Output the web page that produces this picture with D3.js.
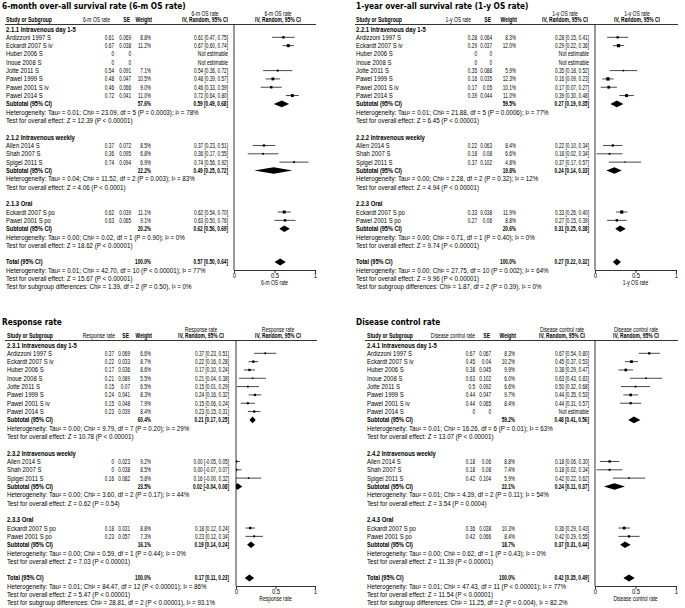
<!DOCTYPE html>
<html>
<head>
<meta charset="utf-8">
<script src="https://cdn.jsdelivr.net/npm/d3@7"></script>
<style>
  body { margin: 0; background: #fff; }
</style>
</head>
<body>
<script>
// ---- data ----
const titles = [
  "6-month over-all survival rate (6-m OS rate)",
  "1-year over-all survival rate (1-y OS rate)",
  "Response rate",
  "Disease control rate"
];
const measures = ["6-m OS rate", "1-y OS rate", "Response rate", "Disease control rate"];
const sectionPrefixes = ["2.1", "2.2", "2.3", "2.4"];
const groupLabels = ["Intravenous day 1-5", "Intravenous weekly", "Oral"];
const studyNames = [
  ["Ardizzoni 1997 S", "Eckardt 2007 S iv", "Huber 2006 S", "Inoue 2008 S", "Jotte 2011 S", "Pawel 1999 S", "Pawel 2001 S iv", "Pawel 2014 S"],
  ["Allen 2014 S", "Shah 2007 S", "Spigel 2011 S"],
  ["Eckardt 2007 S po", "Pawel 2001 S po"]
];

// study rows: [estimate, SE, weight %, lower, upper]  (weight null = not estimable)
const os6Studies = [
  [0.61, 0.069, 8.8, 0.47, 0.75], [0.67, 0.038, 11.2, 0.60, 0.74], [0, 0, null], [0, 0, null],
  [0.54, 0.091, 7.1, 0.36, 0.72], [0.48, 0.047, 10.5, 0.39, 0.57], [0.46, 0.066, 9.0, 0.33, 0.59], [0.72, 0.041, 11.0, 0.64, 0.80],
  [0.37, 0.072, 8.5, 0.23, 0.51], [0.36, 0.095, 6.8, 0.17, 0.55], [0.74, 0.094, 6.9, 0.56, 0.92],
  [0.62, 0.039, 11.1, 0.54, 0.70], [0.63, 0.065, 9.1, 0.50, 0.76]
];
// subtotal / total: [weight %, estimate, lower, upper]
const os6Subtotals = [[57.6, 0.59, 0.49, 0.68], [22.2, 0.49, 0.25, 0.72], [20.2, 0.62, 0.56, 0.69]];
const os6Total = [100.0, 0.57, 0.50, 0.64];
const os6Heterogeneity = [
  "Tau² = 0.01; Chi² = 23.09, df = 5 (P = 0.0003); I² = 78%",
  "Tau² = 0.04; Chi² = 11.52, df = 2 (P = 0.003); I² = 83%",
  "Tau² = 0.00; Chi² = 0.02, df = 1 (P = 0.90); I² = 0%",
  "Tau² = 0.01; Chi² = 42.70, df = 10 (P < 0.00001); I² = 77%"
];
const os6Effect = ["Z = 12.39 (P < 0.00001)", "Z = 4.06 (P < 0.0001)", "Z = 18.62 (P < 0.00001)", "Z = 15.67 (P < 0.00001)"];
const os6SubgroupDiff = "Chi² = 1.39, df = 2 (P = 0.50), I² = 0%";

const os1Studies = [
  [0.28, 0.064, 8.3, 0.15, 0.41], [0.29, 0.037, 12.0, 0.22, 0.36], [0, 0, null], [0, 0, null],
  [0.35, 0.088, 5.9, 0.18, 0.52], [0.16, 0.035, 12.3, 0.09, 0.23], [0.17, 0.05, 10.1, 0.07, 0.27], [0.39, 0.044, 11.0, 0.30, 0.48],
  [0.22, 0.063, 8.4, 0.10, 0.34], [0.18, 0.08, 6.6, 0.02, 0.34], [0.37, 0.102, 4.8, 0.17, 0.57],
  [0.33, 0.038, 11.9, 0.26, 0.40], [0.27, 0.06, 8.8, 0.15, 0.39]
];
const os1Subtotals = [[59.5, 0.27, 0.19, 0.35], [19.8, 0.24, 0.14, 0.33], [20.6, 0.31, 0.25, 0.38]];
const os1Total = [100.0, 0.27, 0.22, 0.32];
const os1Heterogeneity = [
  "Tau² = 0.01; Chi² = 21.88, df = 5 (P = 0.0006); I² = 77%",
  "Tau² = 0.00; Chi² = 2.28, df = 2 (P = 0.32); I² = 12%",
  "Tau² = 0.00; Chi² = 0.71, df = 1 (P = 0.40); I² = 0%",
  "Tau² = 0.00; Chi² = 27.75, df = 10 (P = 0.002); I² = 64%"
];
const os1Effect = ["Z = 6.45 (P < 0.00001)", "Z = 4.94 (P < 0.00001)", "Z = 9.74 (P < 0.00001)", "Z = 9.96 (P < 0.00001)"];
const os1SubgroupDiff = "Chi² = 1.87, df = 2 (P = 0.39), I² = 0%";

const rrStudies = [
  [0.37, 0.069, 6.6, 0.23, 0.51], [0.22, 0.033, 8.7, 0.16, 0.28], [0.17, 0.036, 8.6, 0.10, 0.24], [0.21, 0.089, 5.5, 0.04, 0.38],
  [0.15, 0.07, 6.5, 0.01, 0.29], [0.24, 0.041, 8.3, 0.16, 0.32], [0.15, 0.048, 7.9, 0.06, 0.24], [0.23, 0.039, 8.4, 0.15, 0.31],
  [0, 0.023, 9.2, -0.05, 0.05], [0, 0.038, 8.5, -0.07, 0.07], [0.16, 0.082, 5.8, -0, 0.32],
  [0.18, 0.031, 8.8, 0.12, 0.24], [0.23, 0.057, 7.3, 0.12, 0.34]
];
const rrSubtotals = [[60.4, 0.21, 0.17, 0.25], [23.5, 0.02, -0.04, 0.08], [16.1, 0.19, 0.14, 0.24]];
const rrTotal = [100.0, 0.17, 0.11, 0.23];
const rrHeterogeneity = [
  "Tau² = 0.00; Chi² = 9.79, df = 7 (P = 0.20); I² = 29%",
  "Tau² = 0.00; Chi² = 3.60, df = 2 (P = 0.17); I² = 44%",
  "Tau² = 0.00; Chi² = 0.59, df = 1 (P = 0.44); I² = 0%",
  "Tau² = 0.01; Chi² = 84.47, df = 12 (P < 0.00001); I² = 86%"
];
const rrEffect = ["Z = 10.78 (P < 0.00001)", "Z = 0.62 (P = 0.54)", "Z = 7.03 (P < 0.00001)", "Z = 5.47 (P < 0.00001)"];
const rrSubgroupDiff = "Chi² = 28.81, df = 2 (P < 0.00001), I² = 93.1%";

const dcrStudies = [
  [0.67, 0.067, 8.3, 0.54, 0.80], [0.45, 0.04, 10.2, 0.37, 0.53], [0.38, 0.045, 9.9, 0.29, 0.47], [0.63, 0.102, 6.0, 0.43, 0.83],
  [0.5, 0.092, 6.6, 0.32, 0.68], [0.44, 0.047, 9.7, 0.35, 0.53], [0.44, 0.065, 8.4, 0.31, 0.57], [0, 0, null],
  [0.18, 0.06, 8.8, 0.06, 0.30], [0.18, 0.08, 7.4, 0.02, 0.34], [0.42, 0.104, 5.9, 0.22, 0.62],
  [0.36, 0.038, 10.3, 0.29, 0.43], [0.42, 0.066, 8.4, 0.29, 0.55]
];
const dcrSubtotals = [[59.2, 0.48, 0.41, 0.56], [22.1, 0.24, 0.11, 0.37], [18.7, 0.37, 0.31, 0.44]];
const dcrTotal = [100.0, 0.42, 0.35, 0.49];
const dcrHeterogeneity = [
  "Tau² = 0.01; Chi² = 16.26, df = 6 (P = 0.01); I² = 63%",
  "Tau² = 0.01; Chi² = 4.39, df = 2 (P = 0.11); I² = 54%",
  "Tau² = 0.00; Chi² = 0.62, df = 1 (P = 0.43); I² = 0%",
  "Tau² = 0.01; Chi² = 47.43, df = 11 (P < 0.00001); I² = 77%"
];
const dcrEffect = ["Z = 13.07 (P < 0.00001)", "Z = 3.54 (P = 0.0004)", "Z = 11.39 (P < 0.00001)", "Z = 11.54 (P < 0.00001)"];
const dcrSubgroupDiff = "Chi² = 11.25, df = 2 (P = 0.004), I² = 82.2%";

// ---- layout ----
const W = 685, H = 608;
const BODY = "'Liberation Sans', Arial, sans-serif";
const TITLE = "'DejaVu Sans', Verdana, sans-serif";
const ROW = 8.32;

const layouts = [
  { oy: 0, titleX: 2, nameX: 6, valHeadX: 110, valX: 114, seX: 131, wX: 151, ciX: 228, ciHeadX: 205, plotL: 234, plotR: 315, plotHeadX: 278, lineL: 5, lineR: 316 },
  { oy: 0, titleX: 356, nameX: 356, valHeadX: 471, valX: 477, seX: 492, wX: 516, ciX: 589, ciHeadX: 565, plotL: 595, plotR: 676, plotHeadX: 637, lineL: 355, lineR: 678 },
  { oy: 316, titleX: 2, nameX: 7, valHeadX: 115, valX: 114, seX: 130, wX: 151, ciX: 229, ciHeadX: 201, plotL: 236, plotR: 315, plotHeadX: 278, lineL: 5, lineR: 317 },
  { oy: 316, titleX: 356, nameX: 367, valHeadX: 475, valX: 475, seX: 491, wX: 515, ciX: 589, ciHeadX: 562, plotL: 595, plotR: 676, plotHeadX: 636, lineL: 365, lineR: 678 }
];

const panels = [
  { studies: os6Studies, subs: os6Subtotals, total: os6Total, het: os6Heterogeneity, eff: os6Effect, diff: os6SubgroupDiff },
  { studies: os1Studies, subs: os1Subtotals, total: os1Total, het: os1Heterogeneity, eff: os1Effect, diff: os1SubgroupDiff },
  { studies: rrStudies, subs: rrSubtotals, total: rrTotal, het: rrHeterogeneity, eff: rrEffect, diff: rrSubgroupDiff },
  { studies: dcrStudies, subs: dcrSubtotals, total: dcrTotal, het: dcrHeterogeneity, eff: dcrEffect, diff: dcrSubgroupDiff }
];

const svg = d3.select("body").append("svg").attr("width", W).attr("height", H);
svg.append("rect").attr("width", W).attr("height", H).attr("fill", "#fff");

// measure a string, then squeeze each text role to the widths seen in the source
function measure(s, font, size, bold) {
  const t = svg.append("text").attr("font-family", font).attr("font-size", size)
    .attr("font-weight", bold ? "bold" : "normal").text(s);
  const w = t.node().getComputedTextLength();
  t.remove();
  return w;
}
const SX = {
  title: 184 / measure(titles[0], TITLE, 9, true),
  name: 45 / measure("Ardizzoni 1997 S", BODY, 7, false),
  line: 200 / measure("Heterogeneity: " + os6Heterogeneity[3], BODY, 7, false),
  num: 34 / measure("0.61 [0.47, 0.75]", BODY, 7, false),
  head: 46 / measure("IV, Random, 95% CI", BODY, 7, true),
  study: 46 / measure("Study or Subgroup", BODY, 7, true),
  group: 70 / measure("2.1.1 Intravenous day 1-5", BODY, 7, true),
  sub: 46 / measure("Subtotal (95% CI)", BODY, 7, true)
};

function txt(g, x, y, s, o = {}) {
  return g.append("text")
    .attr("transform", `translate(${x},${y}) scale(${o.sx || SX.name},1)`)
    .attr("text-anchor", o.anchor || "start")
    .attr("font-family", o.font || BODY)
    .attr("font-size", o.size || 7)
    .attr("font-weight", o.bold ? "bold" : "normal")
    .attr("fill", "#000")
    .text(s);
}
const fmt2 = v => (v < 0 || Object.is(v, -0)) ? "-" + Math.abs(v).toFixed(2) : v.toFixed(2);
const ciText = (e, lo, hi) => `${fmt2(e)} [${fmt2(lo)}, ${fmt2(hi)}]`;

function drawPanel(k) {
  const p = panels[k], L = layouts[k], top = L.oy;
  const g = svg.append("g");
  const x = d3.scaleLinear().domain([0, 1]).range([L.plotL, L.plotR]);
  const rowY = i => top + 29 + ROW * i;
  const base = i => rowY(i) + 2.5;

  const clipId = "clip" + k;
  svg.append("clipPath").attr("id", clipId).append("rect")
    .attr("x", x(0)).attr("y", top).attr("width", x(1) - x(0) + 1).attr("height", 300);
  const marks = g.append("g").attr("clip-path", `url(#${clipId})`);

  txt(g, L.titleX, top + 9, titles[k], { font: TITLE, size: 9, sx: SX.title, bold: true });

  const h1 = top + 15.5, h2 = top + 22.3;
  txt(g, L.nameX, h2, "Study or Subgroup", { bold: true, sx: SX.study });
  txt(g, L.valHeadX, h2, measures[k], { anchor: "end", sx: SX.head });
  txt(g, L.seX - 1, h2, "SE", { anchor: "end", bold: true, sx: SX.head });
  txt(g, L.wX + 1, h2, "Weight", { anchor: "end", bold: true, sx: SX.head });
  txt(g, L.ciHeadX, h1, measures[k], { anchor: "middle", sx: SX.head });
  txt(g, L.ciHeadX, h2, "IV, Random, 95% CI", { anchor: "middle", bold: true, sx: SX.head });
  txt(g, L.plotHeadX, h1, measures[k], { anchor: "middle", sx: SX.head });
  txt(g, L.plotHeadX, h2, "IV, Random, 95% CI", { anchor: "middle", bold: true, sx: SX.head });

  g.append("line").attr("x1", L.lineL).attr("x2", L.lineR)
    .attr("y1", top + 24.5).attr("y2", top + 24.5).attr("stroke", "#000").attr("stroke-width", 0.8);
  g.append("line").attr("x1", x(0)).attr("x2", x(0))
    .attr("y1", top + 24.5).attr("y2", top + 270).attr("stroke", "#000").attr("stroke-width", 0.8);

  const diamond = (i, e, lo, hi, hh) => {
    const y = rowY(i);
    marks.append("path")
      .attr("d", `M${x(lo)},${y}L${x(e)},${y - hh}L${x(hi)},${y}L${x(e)},${y + hh}Z`)
      .attr("fill", "#000");
  };

  let i = 0, s = 0;
  studyNames.forEach((names, gi) => {
    txt(g, L.nameX, base(i), `${sectionPrefixes[k]}.${gi + 1} ${groupLabels[gi]}`, { bold: true, sx: SX.group });
    i++;
    names.forEach(name => {
      const [e, se, w, lo, hi] = p.studies[s++];
      txt(g, L.nameX, base(i), name);
      txt(g, L.valX, base(i), String(e), { anchor: "end", sx: SX.num });
      txt(g, L.seX, base(i), String(se), { anchor: "end", sx: SX.num });
      if (w == null) {
        txt(g, L.ciX, base(i), "Not estimable", { anchor: "end", sx: SX.num * 1.05 });
      } else {
        txt(g, L.wX, base(i), w.toFixed(1) + "%", { anchor: "end", sx: SX.num });
        txt(g, L.ciX, base(i), ciText(e, lo, hi), { anchor: "end", sx: SX.num });
        marks.append("line").attr("x1", x(lo)).attr("x2", x(hi))
          .attr("y1", rowY(i)).attr("y2", rowY(i)).attr("stroke", "#333").attr("stroke-width", 0.9);
        const sz = 0.27 * w;
        marks.append("rect").attr("x", x(e) - sz / 2).attr("y", rowY(i) - sz / 2)
          .attr("width", sz).attr("height", sz).attr("fill", "#000");
      }
      i++;
    });
    const [sw, se2, slo, shi] = p.subs[gi];
    txt(g, L.nameX, base(i), "Subtotal (95% CI)", { bold: true, sx: SX.sub });
    txt(g, L.wX, base(i), sw.toFixed(1) + "%", { anchor: "end", bold: true, sx: SX.num });
    txt(g, L.ciX, base(i), ciText(se2, slo, shi), { anchor: "end", bold: true, sx: SX.num });
    diamond(i, se2, slo, shi, 3.3);
    i++;
    txt(g, L.nameX, base(i), "Heterogeneity: " + p.het[gi], { sx: SX.line }); i++;
    txt(g, L.nameX, base(i), "Test for overall effect: " + p.eff[gi], { sx: SX.line }); i++;
    i++;
  });

  const [tw, te, tlo, thi] = p.total;
  txt(g, L.nameX, base(i), "Total (95% CI)", { bold: true, sx: SX.sub });
  txt(g, L.wX, base(i), tw.toFixed(1) + "%", { anchor: "end", bold: true, sx: SX.num });
  txt(g, L.ciX, base(i), ciText(te, tlo, thi), { anchor: "end", bold: true, sx: SX.num });
  diamond(i, te, tlo, thi, 3.5);
  i++;
  txt(g, L.nameX, base(i), "Heterogeneity: " + p.het[3], { sx: SX.line }); i++;
  txt(g, L.nameX, base(i), "Test for overall effect: " + p.eff[3], { sx: SX.line }); i++;
  txt(g, L.nameX, base(i), "Test for subgroup differences: " + p.diff, { sx: SX.line });

  // axis
  const ax = g.append("g").attr("transform", `translate(0,${top + 270})`)
    .call(d3.axisBottom(x).tickValues([0, 0.5, 1]).tickSize(3).tickSizeOuter(0).tickFormat(d3.format("")));
  ax.select(".domain").attr("stroke", "#000").attr("stroke-width", 0.8);
  ax.selectAll(".tick line").attr("stroke", "#000").attr("stroke-width", 0.8);
  ax.selectAll(".tick text")
    .attr("y", 3).attr("font-size", 7).attr("font-family", BODY)
    .attr("transform", `scale(${SX.name},1)`).attr("fill", "#000");
  txt(g, (x(0) + x(1)) / 2, top + 285, measures[k], { anchor: "middle", sx: SX.head });
}

panels.forEach((p, k) => drawPanel(k));
</script>
</body>
</html>
